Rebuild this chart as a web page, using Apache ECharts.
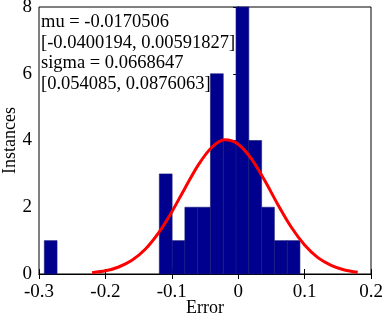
<!DOCTYPE html>
<html>
<head>
<meta charset="utf-8">
<script src="https://cdn.jsdelivr.net/npm/echarts@6/dist/echarts.min.js"></script>
<style>
  html, body { margin: 0; padding: 0; background: #fff; }
  #chart { width: 382px; height: 316px; }
</style>
</head>
<body>
<div id="chart"></div>
<script>
// histogram bins (edges) and counts
const binEdges = [-0.292, -0.2728, -0.2535, -0.2343, -0.215, -0.1958, -0.1765, -0.1573, -0.138, -0.1188,
  -0.0995, -0.0803, -0.061, -0.0418, -0.0225, -0.0033, 0.016, 0.0353, 0.0545, 0.0738, 0.093];
const binCounts = [1, 0, 0, 0, 0, 0, 0, 0, 0, 3, 1, 2, 2, 6, 4, 8, 4, 2, 1, 1];

// fitted normal curve
const curveX = [-0.22, -0.20, -0.18, -0.16, -0.14, -0.12, -0.10, -0.08, -0.06, -0.04, -0.02,
  0, 0.02, 0.04, 0.06, 0.08, 0.10, 0.12, 0.14, 0.16, 0.18];
const curveY = [0.04, 0.095, 0.21, 0.41, 0.74, 1.23, 1.86, 2.58, 3.27, 3.79, 4.02,
  3.89, 3.45, 2.80, 2.07, 1.40, 0.87, 0.49, 0.26, 0.12, 0.05];

const xTicks = { min: -0.3, max: 0.2, interval: 0.1 };
const yTicks = { min: 0, max: 8, interval: 2 };

const fitLines = [
  'mu = -0.0170506',
  '[-0.0400194, 0.00591827]',
  'sigma = 0.0668647',
  '[0.054085, 0.0876063]'
];

const serif = 'Liberation Serif';

const bars = binCounts.map((c, i) => [binEdges[i], binEdges[i + 1], c]);
const curve = curveX.map((x, i) => [x, curveY[i]]);

const chart = echarts.init(document.getElementById('chart'));

const tickLabel = { color: '#000', fontFamily: serif, fontSize: 19 };

chart.setOption({
  animation: false,
  grid: {
    left: 39, right: 11, top: 7, bottom: 42,
    containLabel: false, outerBoundsMode: 'none',
    show: true, borderColor: '#000', borderWidth: 1
  },
  xAxis: [
    {
      type: 'value', min: xTicks.min, max: xTicks.max, interval: xTicks.interval,
      name: 'Error', nameLocation: 'middle', nameGap: 25, nameMoveOverlap: false,
      nameTextStyle: { color: '#000', fontFamily: serif, fontSize: 18 },
      axisLine: { show: true, lineStyle: { color: '#000' } },
      axisTick: { inside: true, length: 5, lineStyle: { color: '#000' } },
      axisLabel: Object.assign({ margin: 9 }, tickLabel),
      splitLine: { show: false }
    },
    {
      type: 'value', position: 'top', min: xTicks.min, max: xTicks.max, interval: xTicks.interval,
      axisLine: { show: true, lineStyle: { color: '#000' } },
      axisTick: { inside: true, length: 5, lineStyle: { color: '#000' } },
      axisLabel: { show: false },
      splitLine: { show: false }
    }
  ],
  yAxis: [
    {
      type: 'value', min: yTicks.min, max: yTicks.max, interval: yTicks.interval,
      name: 'Instances', nameLocation: 'middle', nameGap: 20, nameRotate: 90, nameMoveOverlap: false,
      nameTextStyle: { color: '#000', fontFamily: serif, fontSize: 18 },
      axisLine: { show: true, lineStyle: { color: '#000' } },
      axisTick: { show: true, inside: true, length: 5, lineStyle: { color: '#000' } },
      axisLabel: Object.assign({ margin: 7 }, tickLabel),
      splitLine: { show: false }
    },
    {
      type: 'value', position: 'right', min: yTicks.min, max: yTicks.max, interval: yTicks.interval,
      axisLine: { show: true, lineStyle: { color: '#000' } },
      axisTick: { show: true, inside: true, length: 5, lineStyle: { color: '#000' } },
      axisLabel: { show: false },
      splitLine: { show: false }
    }
  ],
  graphic: [{
    type: 'text',
    left: 41,
    top: 12,
    z: 10,
    style: {
      text: fitLines.join('\n'),
      fill: '#000',
      font: '18.5px "Liberation Serif"',
      lineHeight: 20.5
    }
  }],
  series: [
    {
      type: 'custom',
      data: bars,
      renderItem: function (params, api) {
        const p0 = api.coord([api.value(0), api.value(2)]);
        const p1 = api.coord([api.value(1), 0]);
        if (api.value(2) <= 0) return null;
        return {
          type: 'rect',
          shape: { x: p0[0], y: p0[1], width: p1[0] - p0[0], height: p1[1] - p0[1] },
          style: { fill: '#00008f', stroke: '#1a1a78', lineWidth: 0.6 }
        };
      },
      encode: { x: [0, 1], y: 2 }
    },
    {
      type: 'line',
      data: curve,
      smooth: 0.3,
      showSymbol: false,
      lineStyle: { color: '#ff0000', width: 3 },
      z: 5
    }
  ]
});
</script>
</body>
</html>
